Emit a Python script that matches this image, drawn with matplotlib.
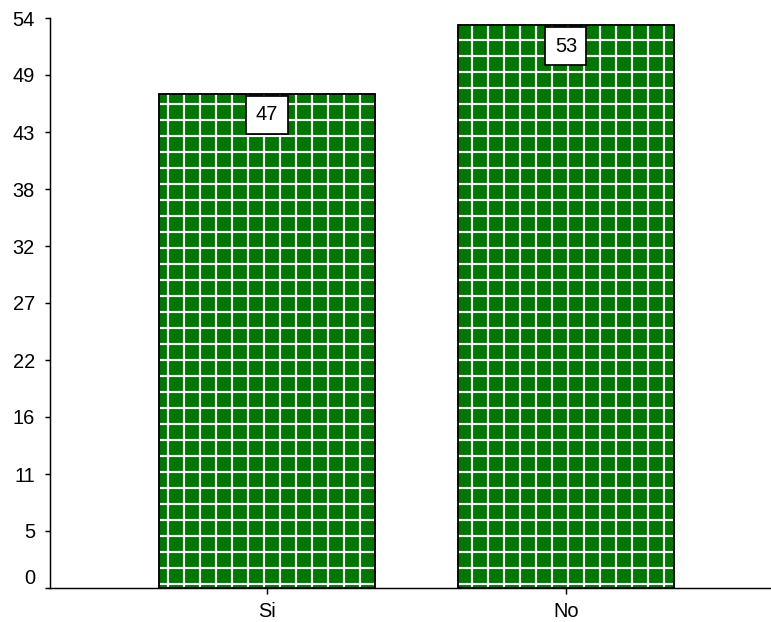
import matplotlib
matplotlib.use("Agg")
import matplotlib.pyplot as plt

categorias = ["Si", "No"]
valores = [46.8, 53.3]
etiquetas = ["47", "53"]
# marcas cada 5.4, con la etiqueta redondeada como en el original
ytick_pos = [0, 5.4, 10.8, 16.2, 21.6, 27, 32.4, 37.8, 43.2, 48.6, 54]
ytick_lab = ["0", "5", "11", "16", "22", "27", "32", "38", "43", "49", "54"]

VERDE = "#007800"
DPI = 96  # a 96 dpi la rejilla "+" sale cada 16 px, como en el original

plt.rcParams.update({"font.family": ["Liberation Sans", "DejaVu Sans"],
                     "font.size": 15, "hatch.linewidth": 1.6})

fig = plt.figure(figsize=(771 / DPI, 622 / DPI), dpi=DPI)
ax = fig.add_axes([50 / 771, 34 / 622, 721 / 771, 570 / 622])

pos = list(range(len(categorias)))
# relleno verde con rejilla blanca, luego el borde negro encima
ax.bar(pos, valores, width=0.72, color=VERDE, edgecolor="white", hatch="+", lw=0)
ax.bar(pos, valores, width=0.72, fill=False, edgecolor="black", lw=1.4)

for x, v, t in zip(pos, valores, etiquetas):
    ax.annotate(t, (x, v), xytext=(0, -15.75), textcoords="offset points",
                ha="center", va="center", fontsize=15,
                bbox=dict(boxstyle="square,pad=0.47", fc="white", ec="black", lw=1.3))

ax.set_xlim(-0.726, 1.686)
ax.set_ylim(0, 54)
ax.set_yticks(ytick_pos)
ax.set_yticklabels(ytick_lab)
ax.get_yticklabels()[0].set_verticalalignment("bottom")
ax.set_xticks(pos)
ax.set_xticklabels(categorias)
ax.spines["top"].set_visible(False)
ax.spines["right"].set_visible(False)
for s in ("left", "bottom"):
    ax.spines[s].set_linewidth(1.1)
ax.tick_params(axis="y", length=3.75, width=1.1, pad=7.5)
ax.tick_params(axis="x", length=4.5, width=1.1, pad=6)

fig.savefig("out.png", dpi=DPI)
